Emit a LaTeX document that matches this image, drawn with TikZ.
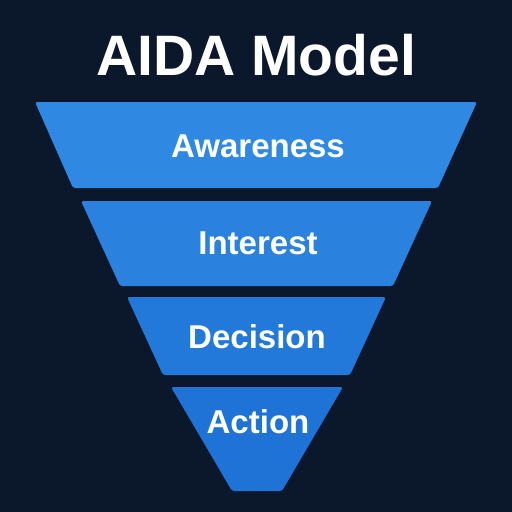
\documentclass[tikz,border=0pt]{standalone}
\usepackage{fontspec}
\setmainfont{Liberation Sans}
\usepackage{tikz}
\usetikzlibrary{positioning}

\definecolor{bgnavy}{RGB}{11,24,43}
\definecolor{stepA}{RGB}{47,137,226}
\definecolor{stepI}{RGB}{42,129,222}
\definecolor{stepD}{RGB}{35,121,218}
\definecolor{stepX}{RGB}{31,115,214}

\begin{document}
\begin{tikzpicture}[x=1pt, y=-1pt,
    funnelpart/.style={rounded corners=2.5pt},
    steplabel/.style={text=white, font=\bfseries\fontsize{33}{36}\selectfont},
    titlelabel/.style={text=white, font=\bfseries\fontsize{57}{60}\selectfont}]
  \fill[bgnavy] (0, 0) rectangle (512, 512);
  \useasboundingbox (0, 0) rectangle (512, 512);

  \node[titlelabel] (title) at (256, 55) {AIDA Model};

%%%%%%%%%%%% Funnel
  \foreach \ytop/\ybot/\xl/\xr/\xbl/\xbr/\col in {
      102/188/35/477/73/438/stepA,
      201/286/81/432/120/393/stepI,
      297/375/127/386/163/350/stepD,
      387/491/171/343/232/282/stepX} {
    \fill[\col, funnelpart] (\xl, \ytop) -- (\xr, \ytop) -- (\xbr, \ybot) -- (\xbl, \ybot) -- cycle;
  }

  \node[steplabel] (awareness) at (258, 146) {Awareness};
  \node[steplabel] (interest) at (258, 243) {Interest};
  \node[steplabel] (decision) at (257, 337) {Decision};
  \node[steplabel] (action) at (258, 422) {Action};
\end{tikzpicture}
\end{document}
